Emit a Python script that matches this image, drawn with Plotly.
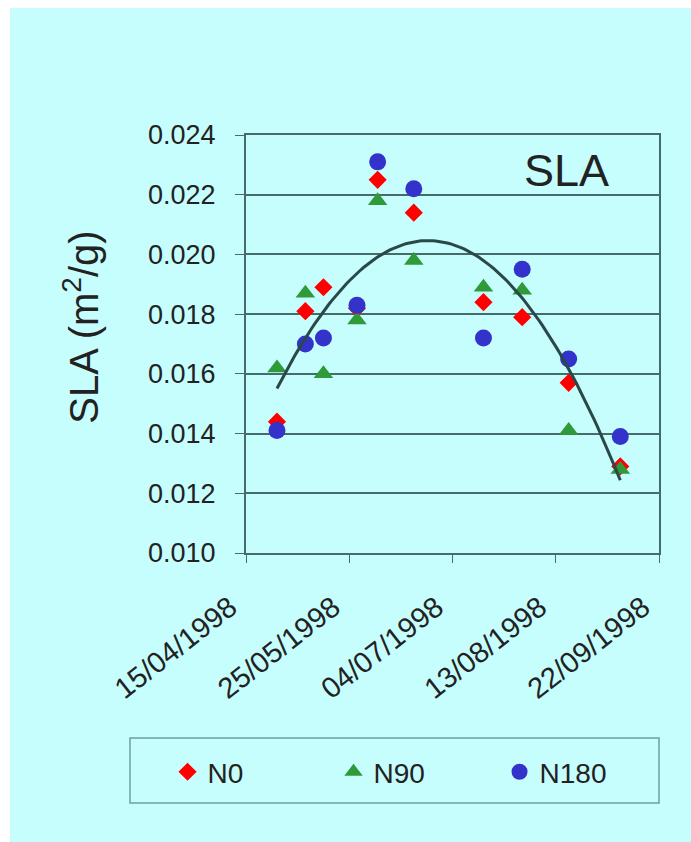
import numpy as np
import pandas as pd
import plotly.graph_objects as go

# ---- data ----
sample_dates = ["1998-04-27", "1998-05-08", "1998-05-15", "1998-05-28", "1998-06-05",
                "1998-06-19", "1998-07-16", "1998-07-31", "1998-08-18", "1998-09-07"]
sla_n0 = [0.0144, 0.0181, 0.0189, 0.0182, 0.0225, 0.0214, 0.0184, 0.0179, 0.0157, 0.0129]
sla_n90 = [0.0162, 0.0187, 0.0160, 0.0178, 0.0218, 0.0198, 0.0189, 0.0188, 0.0141, 0.0128]
sla_n180 = [0.0141, 0.0170, 0.0172, 0.0183, 0.0231, 0.0222, 0.0172, 0.0195, 0.0165, 0.0139]

x_tick_dates = ["1998-04-15", "1998-05-25", "1998-07-04", "1998-08-13", "1998-09-22"]
x_tick_text = ["15/04/1998", "25/05/1998", "04/07/1998", "13/08/1998", "22/09/1998"]
y_ticks = [0.010, 0.012, 0.014, 0.016, 0.018, 0.020, 0.022, 0.024]

# ---- polynomial trendline (2nd order, fitted on all treatments) ----
dates = pd.to_datetime(sample_dates)
t0 = dates[0]
days = np.array([(d - t0).days for d in dates], dtype=float)
all_days = np.concatenate([days, days, days])
all_vals = np.concatenate([sla_n0, sla_n90, sla_n180])
coef = np.polyfit(all_days, all_vals, 2)
fit_days = np.linspace(days.min(), days.max(), 120)
fit_vals = np.polyval(coef, fit_days)
fit_dates = [t0 + pd.Timedelta(days=float(d)) for d in fit_days]

FONT = "Liberation Sans, Arial, sans-serif"
TXT = "#222222"
GRID = "#456b6b"
CYAN = "#c6fdfd"

fig = go.Figure()
fig.add_trace(go.Scatter(x=sample_dates, y=sla_n0, mode="markers", name="N0",
                         marker=dict(symbol="diamond", size=14, color="#ff0000",
                                     line=dict(width=0))))
fig.add_trace(go.Scatter(x=sample_dates, y=sla_n90, mode="markers", name="N90",
                         marker=dict(symbol="triangle-up", size=17, color="#2f9a3a",
                                     line=dict(width=0))))
fig.add_trace(go.Scatter(x=sample_dates, y=sla_n180, mode="markers", name="N180",
                         marker=dict(symbol="circle", size=17, color="#3333cc",
                                     line=dict(width=0))))
fig.add_trace(go.Scatter(x=fit_dates, y=fit_vals, mode="lines", showlegend=False,
                         line=dict(color="#2b4848", width=3), hoverinfo="skip"))

fig.update_layout(
    width=691, height=842,
    margin=dict(l=246, r=32, t=135, b=289),
    paper_bgcolor="white",
    plot_bgcolor="rgba(0,0,0,0)",
    font=dict(family=FONT, color=TXT, size=27),
    showlegend=True,
    legend=dict(orientation="h", x=-0.19, xanchor="left", y=-0.524, yanchor="middle",
                bgcolor="rgba(0,0,0,0)", borderwidth=0, entrywidth=121,
                entrywidthmode="pixels", itemwidth=30,
                font=dict(family=FONT, size=28, color=TXT)),
    xaxis=dict(type="date", range=["1998-04-15", "1998-09-22"],
               tickmode="array", tickvals=x_tick_dates, ticktext=x_tick_text,
               tickangle=-38, ticks="outside", ticklen=8, tickcolor=GRID,
               ticklabelstandoff=16, ticklabelshift=-16,
               showgrid=False, zeroline=False,
               showline=True, linecolor=GRID, linewidth=2, mirror=True,
               tickfont=dict(family=FONT, size=29, color=TXT)),
    yaxis=dict(range=[0.010, 0.024], tickmode="array", tickvals=y_ticks,
               tickformat=".3f", ticks="outside", ticklen=9, tickcolor=GRID,
               ticklabelstandoff=14,
               showgrid=True, gridcolor=GRID, gridwidth=1.5, zeroline=False,
               showline=True, linecolor=GRID, linewidth=2, mirror=True,
               tickfont=dict(family=FONT, size=27, color=TXT)),
    shapes=[
        dict(type="rect", xref="paper", yref="paper", layer="below",
             x0=-0.5714, x1=1.1, y0=-0.8, y1=1.3038,
             fillcolor=CYAN, line=dict(width=0)),
        dict(type="rect", xref="paper", yref="paper", layer="below",
             x0=-0.2809, x1=1.0, y0=-0.5981, y1=-0.4426,
             fillcolor="rgba(0,0,0,0)", line=dict(color="#6f9f9f", width=1.5)),
    ],
    annotations=[
        dict(text="SLA (m<sup>2</sup>/g)", xref="paper", yref="paper",
             x=-0.40, y=0.5407, xanchor="center", yanchor="middle",
             textangle=-90, showarrow=False,
             font=dict(family=FONT, size=40, color=TXT)),
        dict(text="SLA", xref="paper", yref="paper",
             x=0.775, y=0.914, xanchor="center", yanchor="middle",
             showarrow=False,
             font=dict(family=FONT, size=45, color=TXT)),
    ],
)

fig.write_html("out.html")
